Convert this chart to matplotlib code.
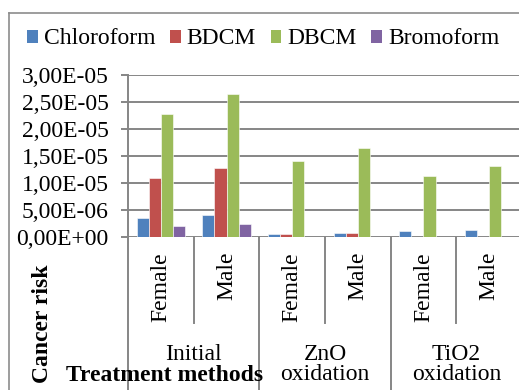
import matplotlib
matplotlib.use("Agg")
import matplotlib.pyplot as plt
import matplotlib.ticker as mticker
from matplotlib.lines import Line2D
from matplotlib.patches import Patch
import numpy as np

plt.rcParams["font.family"] = ["Liberation Serif", "DejaVu Serif"]

# data
categories = ["Female", "Male", "Female", "Male", "Female", "Male"]
groups = ["Initial", "ZnO\noxidation", "TiO2\noxidation"]
series = ["Chloroform", "BDCM", "DBCM", "Bromoform"]
chloroform = [3.5e-6, 4.1e-6, 5.5e-7, 6.0e-7, 1.1e-6, 1.3e-6]
bdcm = [1.09e-5, 1.28e-5, 5.5e-7, 7.0e-7, 0.0, 0.0]
dbcm = [2.27e-5, 2.64e-5, 1.41e-5, 1.65e-5, 1.13e-5, 1.31e-5]
bromoform = [1.98e-6, 2.3e-6, 0.0, 0.0, 0.0, 0.0]
values = [chloroform, bdcm, dbcm, bromoform]

COLORS = ["#4F81BD", "#C0504D", "#9BBB59", "#8064A2"]
GRID = "#868686"
FS = 17

W, H = 519, 390
fig = plt.figure(figsize=(W / 100, H / 100), dpi=100)
fig.patch.set_facecolor("white")

# axes box in pixel terms
left, right, top, bottom = 128, 522, 74.7, 236.7
ax = fig.add_axes([left / W, 1 - bottom / H, (right - left) / W, (bottom - top) / H])

x = np.arange(len(categories)) + 0.5
bw = 0.183
for j, (name, vals) in enumerate(zip(series, values)):
    ax.bar(x + (j - 1.5) * bw, vals, width=bw, color=COLORS[j],
           edgecolor="white", linewidth=0.4, zorder=3, label=name)

ax.set_xlim(0, len(categories))
ax.set_ylim(0, 3e-5)
ax.set_yticks(np.arange(0, 3.01e-5, 5e-6))
ax.yaxis.set_major_formatter(mticker.FuncFormatter(
    lambda v, p: f"{v:.2E}".replace(".", ",")))
ax.set_xticks([])
ax.tick_params(axis="y", labelsize=FS, length=5, width=1.4, color=GRID, pad=9)
ax.grid(axis="y", color=GRID, linewidth=1.4, zorder=0)
for s in ["top", "right", "bottom"]:
    ax.spines[s].set_visible(False)
ax.spines["left"].set_color(GRID)
ax.spines["left"].set_linewidth(1.4)

# category dividers below the axis (Excel multi-level category axis)
trans = ax.get_xaxis_transform()
n = len(categories)
for k in range(n + 1):
    y_end = -1.0 if k % 2 == 0 else -0.533
    ax.plot([k, k], [0, y_end], color=GRID, linewidth=1.4,
            transform=trans, clip_on=False)

for xi, lab in zip(x, categories):
    ax.text(xi, -0.094, lab, rotation=90, ha="center", va="top",
            fontsize=FS, transform=trans)

for g, lab in enumerate(groups):
    ax.text(2 * g + 1, -0.662, lab, ha="center", va="top", fontsize=FS,
            linespacing=0.92, multialignment="center", transform=trans)

fig.text(165 / W, 1 - 381 / H, "Treatment methods", ha="center",
         va="baseline", fontsize=FS, fontweight="bold")
fig.text(42 / W, 1 - 323.5 / H, "Cancer risk", rotation=90, ha="center",
         va="center", fontsize=FS, fontweight="bold")

handles = [Patch(facecolor=c, edgecolor="none") for c in COLORS]
fig.legend(handles, series, loc="center left", bbox_to_anchor=(27 / W, 1 - 39 / H),
           ncol=4, frameon=False, fontsize=FS, borderpad=0, borderaxespad=0,
           handlelength=0.46, handleheight=0.46, handletextpad=0.25,
           columnspacing=0.62)

# outer chart frame
fig.add_artist(Line2D([9 / W, 9 / W], [0, 1 - 13 / H], color="#8C8C8C", linewidth=1.2))
fig.add_artist(Line2D([9 / W, 1], [1 - 13 / H, 1 - 13 / H], color="#8C8C8C", linewidth=1.2))

fig.savefig("out.png", dpi=100, facecolor="white")
